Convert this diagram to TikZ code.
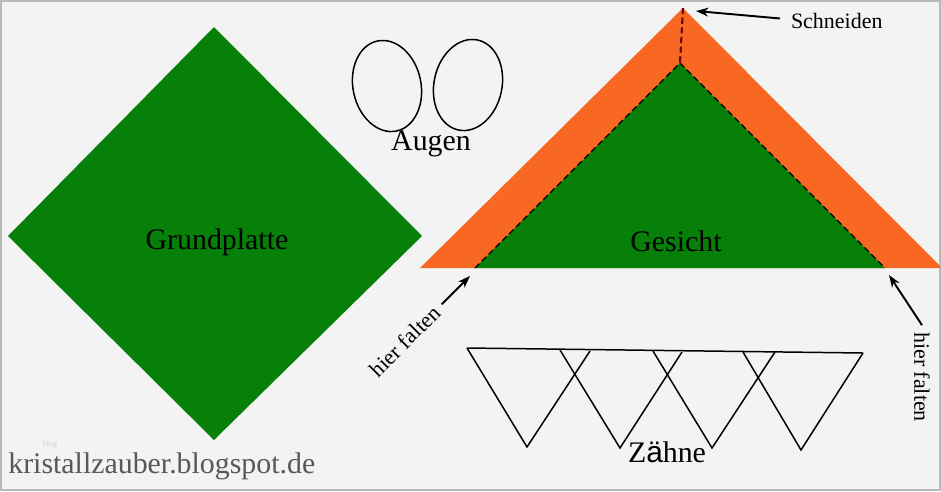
\documentclass[tikz,border=0pt]{standalone}
\usepackage{fontspec}
\setmainfont{Liberation Serif}
\setsansfont{Liberation Sans}
\usetikzlibrary{arrows.meta}

\definecolor{papier}{RGB}{243,243,243}
\definecolor{grundgruen}{RGB}{6,128,8}
\definecolor{randorange}{RGB}{249,104,34}
\definecolor{schnittrot}{RGB}{100,8,8}
\definecolor{blogtext}{RGB}{88,88,88}

\begin{document}
\begin{tikzpicture}[x=0.02cm,y=-0.02cm,
	beschriftung/.style={font=\fontsize{17}{20}\selectfont, inner sep=0pt, anchor=base},
	hinweis/.style={font=\fontsize{12.5}{15}\selectfont, inner sep=0pt, outer sep=4pt},
	falzlinie/.style={dash pattern=on 3.5pt off 2pt, line width=0.75pt},
	pfeil/.style={-{Stealth[length=7pt,width=5pt]}, line width=1.1pt},
	umriss/.style={line width=0.85pt, line join=miter}]

	\useasboundingbox (0,0) rectangle (941,491);
	\fill[papier] (0,0) rectangle (941,491);
	\draw[gray!55, line width=0.6pt] (1,1) rectangle (940,490);

	% Grundplatte
	\fill[grundgruen] (214,27) -- (422,236) -- (214,440) -- (8,236) -- cycle;
	\node[beschriftung] (grundplatte) at (217,249) {Grundplatte};

	% Augen
	\draw[umriss] [rotate around={12:(387,86)}] (387,86) ellipse [x radius=34, y radius=46];
	\draw[umriss] [rotate around={-12:(468,85)}] (468,85) ellipse [x radius=34, y radius=46];
	\node[beschriftung] (augen) at (431,150) {Augen};

	% Gesicht mit Rand
	\coordinate (spitze) at (683,8);
	\coordinate (innenspitze) at (680,63);
	\coordinate (falzlinks) at (475,268);
	\coordinate (falzrechts) at (885,268);
	\fill[randorange] (spitze) -- (940,266) -- (940,268) -- (420,268) -- cycle;
	\fill[grundgruen] (innenspitze) -- (falzrechts) -- (falzlinks) -- cycle;
	\draw[falzlinie] (falzlinks) -- (innenspitze) -- (falzrechts);
	\draw[falzlinie, schnittrot, line width=1.2pt] (spitze) -- (innenspitze);
	\node[beschriftung] (gesicht) at (676,251) {Gesicht};

	% Hinweise
	\node[hinweis, anchor=base west] (schneiden) at (784,28) {Schneiden};
	\coordinate (schnitt) at (696,11);
	\draw[pfeil] (schneiden.west) ++(-4,-2) -- (schnitt);
	\node[hinweis, rotate=45] (falten1) at (405,341) {hier falten};
	\coordinate (falzpunkt1) at (470,276);
	\draw[pfeil] (falten1.east) -- (falzpunkt1);
	\node[hinweis, rotate=-90] (falten2) at (922,377) {hier falten};
	\coordinate (falzpunkt2) at (889,275);
	\draw[pfeil] (falten2.west) -- (falzpunkt2);

	% Zaehne
	\draw[umriss] (467,348) -- (863,353);
	\draw[umriss] (467,348) -- (527,447) -- (590,351);
	\draw[umriss] (560,350) -- (620,448) -- (682,352);
	\draw[umriss] (653,351) -- (712,448) -- (775,352);
	\draw[umriss] (743,352) -- (801,450) -- (863,353);
	\node[beschriftung] (zaehne) at (667,462) {Z{\sffamily ä}hne};

	% Blog
	\node[font=\fontsize{4.5}{5}\selectfont, text=gray!40, inner sep=0pt] (klein) at (50,445) {blog};
	\node[beschriftung, text=blogtext, anchor=base west] (blog) at (8,473) {kristallzauber.blogspot.de};
\end{tikzpicture}
\end{document}
